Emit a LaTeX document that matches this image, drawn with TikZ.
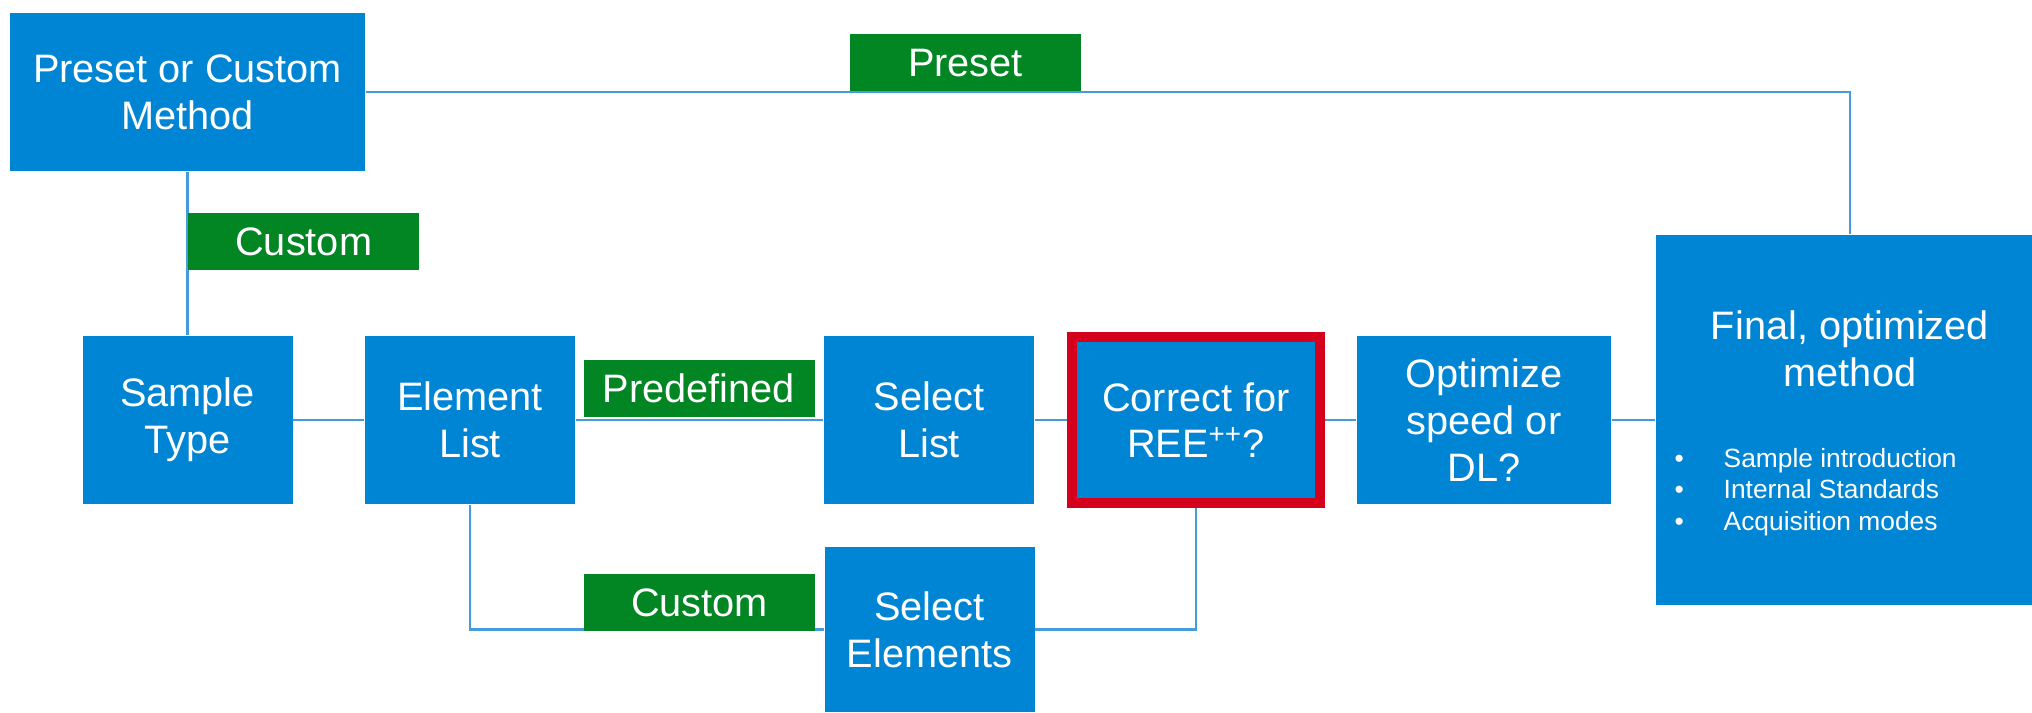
\documentclass[tikz,border=0pt]{standalone}
\usepackage{fontspec}
\setmainfont{Liberation Sans}
\usetikzlibrary{positioning}
\definecolor{procblue}{RGB}{0,133,212}
\definecolor{taggreen}{RGB}{2,133,35}
\definecolor{flagred}{RGB}{213,0,28}
\definecolor{linkblue}{RGB}{70,155,220}
\tikzset{
  pbox/.style={fill=procblue,text=white,align=center,font=\fontsize{11.3}{13.3}\selectfont,minimum width=2.10cm,minimum height=1.68cm,inner sep=2pt},
  hbox/.style={pbox,draw=flagred,line width=0.10cm,minimum width=2.48cm,minimum height=1.66cm},
  tag/.style={fill=taggreen,text=white,font=\fontsize{11.3}{13.3}\selectfont,minimum width=2.31cm,minimum height=0.57cm,inner sep=0pt},
  conn/.style={draw=linkblue,line width=0.6pt},
  blist/.style={text=white,font=\fontsize{7.5}{9.1}\selectfont,inner sep=0pt}
}

\begin{document}
\begin{tikzpicture}
  \useasboundingbox (0,0) rectangle (20.32,7.12);
  % boxes
  \node[pbox,minimum width=3.55cm,minimum height=1.58cm] (preset) at (1.875,6.20) {Preset or Custom\\Method};
  \node[pbox] (sample) at (1.875,2.92) {Sample\\Type}; \node[pbox] (element) at (4.70,2.92) {Element\\List};
  \node[pbox] (sellist) at (9.29,2.92) {Select\\List}; \node[hbox] (correct) at (11.96,2.92) {Correct for\\REE\textsuperscript{++}?};
  \node[pbox,minimum width=2.54cm] (optim) at (14.84,2.92) {Optimize\\speed or\\DL?};
  \node[pbox,minimum height=1.65cm] (selelem) at (9.295,0.825) {Select\\Elements};
  \node[pbox,minimum width=3.76cm,minimum height=3.70cm] (final) at (18.44,2.92) {};
  \node[text=white,align=center,font=\fontsize{11.3}{13.3}\selectfont,inner sep=0pt] (ftitle) at (18.50,3.63) {Final, optimized\\method};
  \node[blist,anchor=base west] (fnotes) at (16.74,2.45) {\begin{tabular}[t]{@{}p{0.49cm}@{}l@{}}\textbullet & Sample introduction\\ \textbullet & Internal Standards\\ \textbullet & Acquisition modes\end{tabular}};
  % connectors
  \coordinate (finaltop) at ([xshift=0.06cm]final.north);
  \draw[conn] (preset.east) -| (finaltop); \draw[conn] (preset.south) -- (sample.north);
  \draw[conn] (sample) -- (element); \draw[conn] (element) -- (sellist); \draw[conn] (sellist) -- (correct); \draw[conn] (correct) -- (optim); \draw[conn] (optim) -- (final);
  \draw[conn] (element.south) |- (selelem.west); \draw[conn] (selelem.east) -| (correct.south);
  % branch labels
  \node[tag,anchor=south] (tpreset) at (9.655,6.20) {Preset}; \node[tag,anchor=west] (tcustom) at (1.875,4.705) {Custom};
  \node[tag,anchor=south] (tpredef) at (6.99,2.94) {Predefined}; \node[tag,anchor=south] (tcustomb) at (6.995,0.80) {Custom};
\end{tikzpicture}
\end{document}
